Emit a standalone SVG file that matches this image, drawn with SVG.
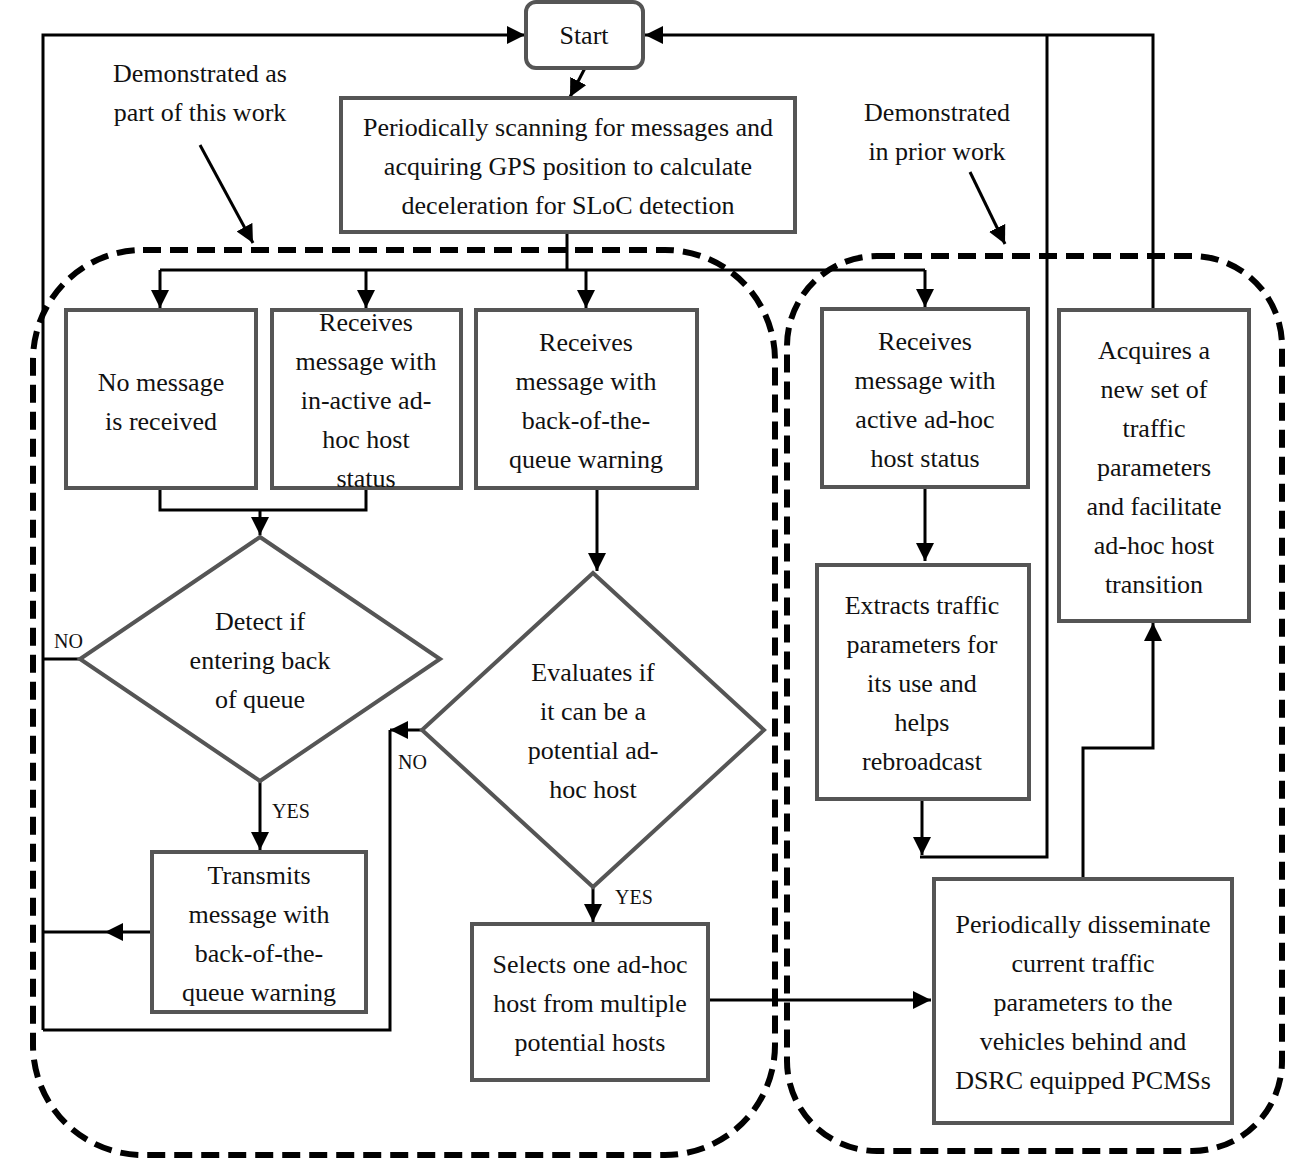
<svg xmlns="http://www.w3.org/2000/svg" width="1296" height="1175" viewBox="0 0 1296 1175" font-family="'Liberation Serif', 'Times New Roman', Times, 'DejaVu Serif', serif">
<style>
text{font-family:'Liberation Serif','Times New Roman',Times,'DejaVu Serif',serif;font-size:26px;fill:#111;text-anchor:middle}
.sm{font-size:20px;text-anchor:start}
.box{fill:#fff;stroke:#555;stroke-width:4}
.ln{fill:none;stroke:#000;stroke-width:3}
.dash{fill:none;stroke:#000;stroke-width:6;stroke-dasharray:18 9}
</style>
<defs>
<marker id="a" viewBox="0 0 10 10" refX="10" refY="5" markerWidth="6" markerHeight="6" orient="auto"><path d="M0,0L10,5L0,10z" fill="#000"/></marker>
</defs>
<rect class="dash" x="33" y="250" width="742" height="905" rx="110"/>
<rect class="dash" x="787" y="256" width="495" height="895" rx="90"/>
<g id="connectors">
<path class="ln" d="M585,68L570,97" marker-end="url(#a)"/>
<path class="ln" d="M43,1030V35H525" marker-end="url(#a)"/>
<path class="ln" d="M1153,310V35H645" marker-end="url(#a)"/>
<path class="ln" d="M1047,35V857H920"/>
<path class="ln" d="M567,232V270M160,270H925"/>
<path class="ln" d="M160,270V308" marker-end="url(#a)"/>
<path class="ln" d="M366,270V308" marker-end="url(#a)"/>
<path class="ln" d="M586,270V308" marker-end="url(#a)"/>
<path class="ln" d="M925,270V307" marker-end="url(#a)"/>
<path class="ln" d="M160,488V510H366V488"/>
<path class="ln" d="M260,510V535" marker-end="url(#a)"/>
<path class="ln" d="M80,659H43"/>
<path class="ln" d="M260,781V850" marker-end="url(#a)"/>
<path class="ln" d="M152,932H105" marker-end="url(#a)"/>
<path class="ln" d="M105,932H43"/>
<path class="ln" d="M597,488V571" marker-end="url(#a)"/>
<path class="ln" d="M422,730H390" marker-end="url(#a)"/>
<path class="ln" d="M390,730V1030H43"/>
<path class="ln" d="M593,887V922" marker-end="url(#a)"/>
<path class="ln" d="M708,1000H931" marker-end="url(#a)"/>
<path class="ln" d="M925,487V561" marker-end="url(#a)"/>
<path class="ln" d="M922,799V855" marker-end="url(#a)"/>
<path class="ln" d="M1083,879V748H1153V623" marker-end="url(#a)"/>
<path class="ln" d="M200,145L253,243" marker-end="url(#a)"/>
<path class="ln" d="M970,172L1005,244" marker-end="url(#a)"/>
</g>
<g id="start"><rect class="box" x="526" y="2" width="117" height="66" rx="10"/><text x="584" y="44">Start</text></g>
<g id="scan"><rect class="box" x="341" y="98" width="454" height="134"/><text x="568" y="136">Periodically scanning for messages and</text><text x="568" y="175">acquiring GPS position to  calculate</text><text x="568" y="214">deceleration  for SLoC detection</text></g>
<g id="nomsg"><rect class="box" x="66" y="310" width="190" height="178"/><text x="161" y="391">No message</text><text x="161" y="430">is received</text></g>
<g id="inactive"><rect class="box" x="272" y="310" width="189" height="178"/><text x="366" y="331">Receives</text><text x="366" y="370">message with</text><text x="366" y="409">in-active ad-</text><text x="366" y="448">hoc host</text><text x="366" y="487">status</text></g>
<g id="botq"><rect class="box" x="476" y="310" width="221" height="178"/><text x="586" y="351">Receives</text><text x="586" y="390">message with</text><text x="586" y="429">back-of-the-</text><text x="586" y="468">queue warning</text></g>
<g id="active"><rect class="box" x="822" y="309" width="206" height="178"/><text x="925" y="350">Receives</text><text x="925" y="389">message with</text><text x="925" y="428">active ad-hoc</text><text x="925" y="467">host status</text></g>
<g id="acquire"><rect class="box" x="1059" y="310" width="190" height="311"/><text x="1154" y="359">Acquires a</text><text x="1154" y="398">new set of</text><text x="1154" y="437">traffic</text><text x="1154" y="476">parameters</text><text x="1154" y="515">and facilitate</text><text x="1154" y="554">ad-hoc host</text><text x="1154" y="593">transition</text></g>
<g id="detect"><path class="box" d="M260,537L440,659L260,781L80,659Z"/><text x="260" y="630">Detect if</text><text x="260" y="669">entering  back</text><text x="260" y="708">of queue</text></g>
<g id="evaluate"><path class="box" d="M593,573L764,730L593,887L422,730Z"/><text x="593" y="681">Evaluates if</text><text x="593" y="720">it can be a</text><text x="593" y="759">potential ad-</text><text x="593" y="798">hoc host</text></g>
<g id="transmit"><rect class="box" x="152" y="852" width="214" height="160"/><text x="259" y="884">Transmits</text><text x="259" y="923">message  with</text><text x="259" y="962">back-of-the-</text><text x="259" y="1001">queue warning</text></g>
<g id="select"><rect class="box" x="472" y="924" width="236" height="156"/><text x="590" y="973">Selects one ad-hoc</text><text x="590" y="1012">host from multiple</text><text x="590" y="1051">potential hosts</text></g>
<g id="extract"><rect class="box" x="817" y="565" width="212" height="234"/><text x="922" y="614">Extracts traffic</text><text x="922" y="653">parameters  for</text><text x="922" y="692">its use and</text><text x="922" y="731">helps</text><text x="922" y="770">rebroadcast</text></g>
<g id="dissem"><rect class="box" x="934" y="879" width="298" height="244"/><text x="1083" y="933">Periodically disseminate</text><text x="1083" y="972">current traffic</text><text x="1083" y="1011">parameters to the</text><text x="1083" y="1050">vehicles behind and</text><text x="1083" y="1089">DSRC equipped PCMSs</text></g>
<g id="labels">
<text x="200" y="82">Demonstrated as</text><text x="200" y="121">part of this work</text>
<text x="937" y="121">Demonstrated</text><text x="937" y="160">in prior work</text>
<text class="sm" x="54" y="648">NO</text><text class="sm" x="272" y="818">YES</text>
<text class="sm" x="398" y="769">NO</text><text class="sm" x="615" y="904">YES</text>
</g>
</svg>
